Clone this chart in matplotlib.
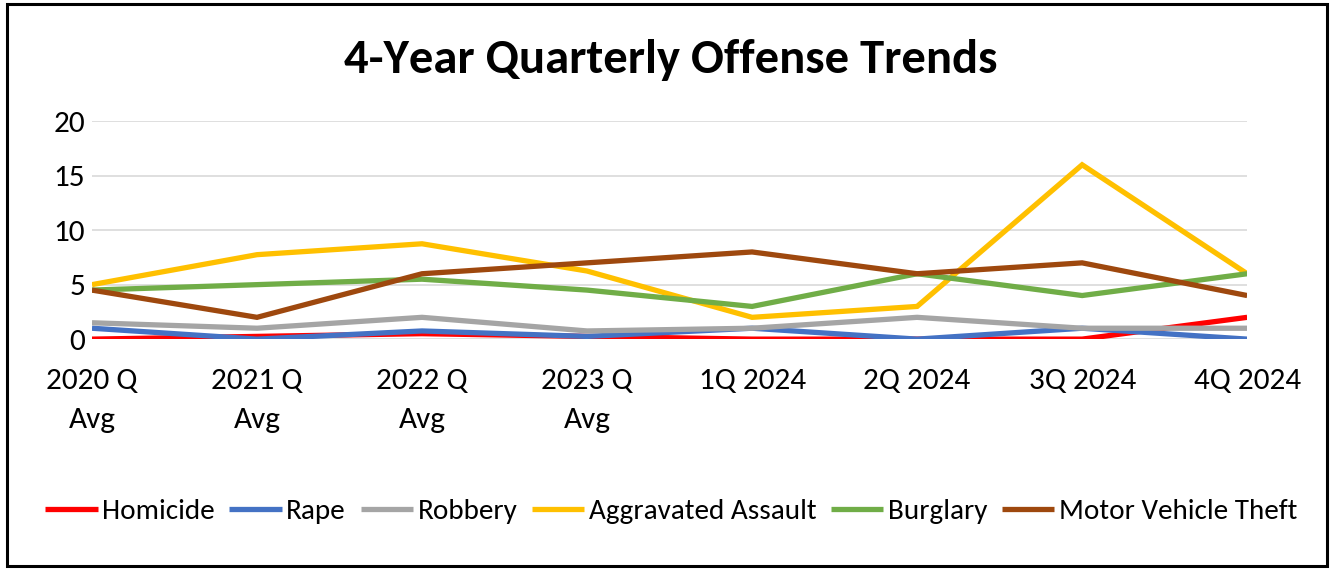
"""Quarterly offense trends: 4-year averages vs. 2024 quarters."""

import matplotlib

matplotlib.use("Agg")

import matplotlib.pyplot as plt
from matplotlib.patches import Rectangle

plt.rcParams["font.family"] = ["Carlito", "Liberation Sans Narrow", "DejaVu Sans"]

periods = ["2020 Q\nAvg", "2021 Q\nAvg", "2022 Q\nAvg", "2023 Q\nAvg",
           "1Q 2024", "2Q 2024", "3Q 2024", "4Q 2024"]

homicide = [0, 0.25, 0.5, 0.25, 0, 0, 0, 2]
rape = [1, 0, 0.75, 0.25, 1, 0, 1, 0]
robbery = [1.5, 1, 2, 0.75, 1, 2, 1, 1]
agg_assault = [5, 7.75, 8.75, 6.25, 2, 3, 16, 6]
burglary = [4.5, 5, 5.5, 4.5, 3, 6, 4, 6]
mv_theft = [4.5, 2, 6, 7, 8, 6, 7, 4]

series = [
    ("Homicide", homicide, "#FF0000"),
    ("Rape", rape, "#4472C4"),
    ("Robbery", robbery, "#A5A5A5"),
    ("Aggravated Assault", agg_assault, "#FFC000"),
    ("Burglary", burglary, "#70AD47"),
    ("Motor Vehicle Theft", mv_theft, "#9E480E"),
]

fig = plt.figure(figsize=(13.37, 5.69), dpi=100)
ax = fig.add_axes([0.0688, 0.404, 0.864, 0.383])

x = range(len(periods))
for name, values, color in series:
    ax.plot(x, values, color=color, linewidth=3.8, label=name,
            solid_joinstyle="miter", solid_capstyle="butt")

ax.set_xlim(0, len(periods) - 1)
ax.set_ylim(0, 20)
ax.set_yticks([0, 5, 10, 15, 20])
ax.grid(axis="y", color="#D9D9D9", linewidth=1.2)
ax.set_axisbelow(True)
for spine in ax.spines.values():
    spine.set_visible(False)
ax.tick_params(axis="both", length=0, labelsize=22.5)
ax.tick_params(axis="y", pad=5)
ax.tick_params(axis="x", pad=21)
ax.set_xticks(list(x))
ax.set_xticklabels(periods, linespacing=1.6, va="top")

fig.text(0.502, 0.895, "4-Year Quarterly Offense Trends", ha="center", va="center",
         fontsize=35, fontweight="bold")

fig.legend(loc="center", bbox_to_anchor=(0.502, 0.101), ncol=6, frameon=False,
           fontsize=21, handlelength=1.8, handletextpad=0.15, columnspacing=0.5)

# outer frame around the whole chart
fig.patches.append(Rectangle((0.0055, 0.006), 0.987, 0.987, transform=fig.transFigure,
                             fill=False, edgecolor="black", linewidth=2.2))

fig.savefig("out.png", dpi=100)
